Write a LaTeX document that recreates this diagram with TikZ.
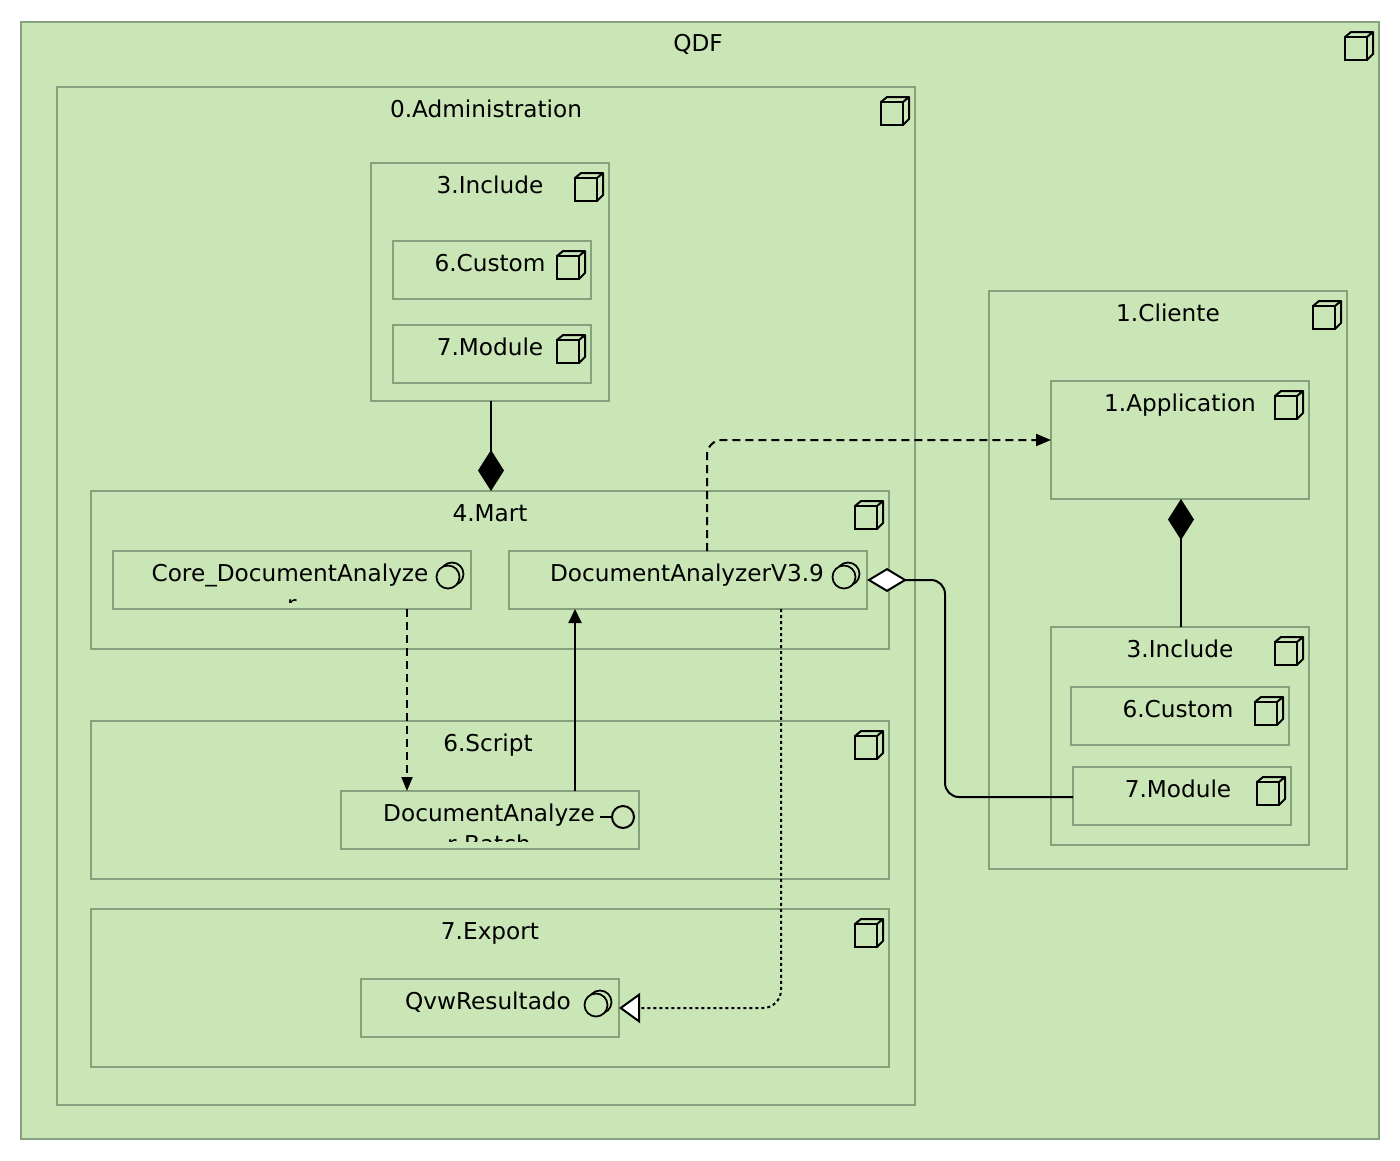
\documentclass[tikz,border=0pt]{standalone}
\usepackage{fontspec}
\setmainfont{DejaVu Sans}
\usetikzlibrary{calc}
\usetikzlibrary{arrows.meta}
\definecolor{pkgfill}{RGB}{202,229,182}
\definecolor{pkgline}{RGB}{135,160,125}
\tikzset{
    box/.style 2 args={draw=pkgline, line width=0.04cm, anchor=north west, outer sep=0pt, inner sep=0pt,
        minimum width=#1*0.02cm, minimum height=#2*0.02cm},
    lbl/.style={anchor=base, inner sep=0pt, font=\fontsize{13.2}{15}\selectfont},
    wire/.style={black, line width=0.04cm},
    cube/.pic={
        \draw[wire] (-34,15) rectangle (-12,38);
        \draw[wire, line join=round] (-34,15) -- (-28,10) -- (-6,10) -- (-12,15);
        \draw[wire, line join=round] (-6,10) -- (-6,32) -- (-12,38);
    },
    twoball/.pic={
        \draw[wire, line width=0.035cm] (-19,23) circle (11.5);
        \draw[wire, line width=0.035cm, fill=pkgfill] (-23,26) circle (11.5);
    },
    oneball/.pic={
        \draw[wire] (-39,26) -- (-27,26);
        \draw[wire, fill=pkgfill] (-16,26) circle (11);
    },
}
\begin{document}
\begin{tikzpicture}[x=0.02cm, y=-0.02cm]
    \useasboundingbox (0,0) rectangle (1400,1160);

    \node[box={1358}{1117}, fill=pkgfill] (qdf) at (21,22) {};
    \node[box={858}{1018}] (admin) at (57,87) {};
    \node[box={238}{238}] (include) at (371,163) {};
    \node[box={198}{58}] (custom) at (393,241) {};
    \node[box={198}{58}] (module) at (393,325) {};
    \node[box={798}{158}] (mart) at (91,491) {};
    \node[box={358}{58}] (core) at (113,551) {};
    \node[box={358}{58}] (analyzer) at (509,551) {};
    \node[box={798}{158}] (script) at (91,721) {};
    \node[box={298}{58}] (batch) at (341,791) {};
    \node[box={798}{158}] (export) at (91,909) {};
    \node[box={258}{58}] (result) at (361,979) {};
    \node[box={358}{578}] (cliente) at (989,291) {};
    \node[box={258}{118}] (app) at (1051,381) {};
    \node[box={258}{218}] (cinclude) at (1051,627) {};
    \node[box={218}{58}] (ccustom) at (1071,687) {};
    \node[box={218}{58}] (cmodule) at (1073,767) {};

    \foreach \n in {qdf,admin,include,custom,module,mart,script,export,cliente,app,cinclude,ccustom,cmodule}
        \pic at (\n.north east) {cube};
    \foreach \n in {core,analyzer,result}
        \pic at (\n.north east) {twoball};
    \pic at (batch.north east) {oneball};

    \node[lbl] (qdflbl) at (698,51) {QDF};
    \node[lbl] (adminlbl) at (486,117) {0.Administration};
    \node[lbl] (includelbl) at (490,193) {3.Include};
    \node[lbl] (customlbl) at (490,271) {6.Custom};
    \node[lbl] (modulelbl) at (490,355) {7.Module};
    \node[lbl] (martlbl) at (490,521) {4.Mart};
    \node[lbl] (corelbl) at (290,581) {Core\_DocumentAnalyze};
    \node[lbl] (analyzerlbl) at (687,581) {DocumentAnalyzerV3.9};
    \node[lbl] (scriptlbl) at (488,751) {6.Script};
    \node[lbl] (batchlbl) at (489,821) {DocumentAnalyze};
    \node[lbl] (exportlbl) at (490,939) {7.Export};
    \node[lbl] (resultlbl) at (488,1009) {QvwResultado};
    \node[lbl] (clientelbl) at (1168,321) {1.Cliente};
    \node[lbl] (applbl) at (1180,411) {1.Application};
    \node[lbl] (cincludelbl) at (1180,657) {3.Include};
    \node[lbl] (ccustomlbl) at (1178,717) {6.Custom};
    \node[lbl] (cmodulelbl) at (1178,797) {7.Module};

    \begin{scope}
        \clip (113,590) rectangle (471,602);
        \node[lbl] (corerest) at (292,612) {r};
    \end{scope}
    \begin{scope}
        \clip (341,830) rectangle (639,841);
        \node[lbl] (batchrest) at (489,852) {r Batch};
    \end{scope}

    \coordinate (elbow) at (945,700);

    \draw[wire, -{Diamond[length=0.82cm, width=0.52cm]}] ($(include.south)+(1,0)$) -- ($(include.south |- mart.north)+(1,0)$);
    \draw[wire, -{Diamond[length=0.82cm, width=0.52cm]}] ($(cinclude.north)+(1,0)$) -- ($(cinclude.north |- app.south)+(1,0)$);
    \draw[wire, dash pattern=on 0.16cm off 0.1cm, rounded corners=0.3cm, -{Triangle[length=0.3cm, width=0.24cm]}]
        ($(analyzer.north west)+(198,0)$) |- (app.west);
    \draw[wire, dash pattern=on 0.16cm off 0.1cm, -{Triangle[length=0.28cm, width=0.22cm]}]
        ($(core.south west)+(294,0)$) -- ($(batch.north west)+(66,0)$);
    \draw[wire, -{Triangle[length=0.28cm, width=0.26cm]}]
        ($(batch.north west)+(234,0)$) -- ($(analyzer.south west)+(66,0)$);
    \draw[wire, dash pattern=on 0.06cm off 0.06cm, rounded corners=0.36cm, -{Triangle[length=0.42cm, width=0.6cm, fill=white]}]
        ($(analyzer.south west)+(272,0)$) |- (result.east);
    \draw[wire, rounded corners=0.28cm, {Diamond[length=0.8cm, width=0.48cm, fill=white]}-]
        (analyzer.east) -| (elbow) |- ($(cmodule.west)+(0,1)$);
\end{tikzpicture}
\end{document}
